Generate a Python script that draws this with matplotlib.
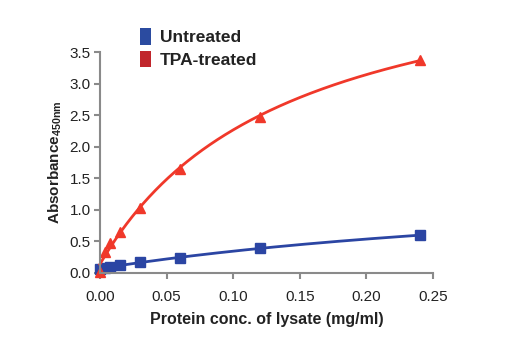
import numpy as np
import matplotlib
matplotlib.use("Agg")
import matplotlib.pyplot as plt
from matplotlib.patches import Patch
from matplotlib import font_manager

names = {f.name for f in font_manager.fontManager.ttflist}
FONT = "Liberation Sans Narrow" if "Liberation Sans Narrow" in names else "Liberation Sans"
plt.rcParams['font.family'] = [FONT, 'DejaVu Sans']

conc = [0.0, 0.00375, 0.0075, 0.015, 0.03, 0.06, 0.12, 0.24]
untreated = [0.06, 0.08, 0.10, 0.13, 0.17, 0.24, 0.39, 0.60]
tpa = [0.02, 0.33, 0.47, 0.65, 1.03, 1.65, 2.48, 3.38]
xticks = [0.00, 0.05, 0.10, 0.15, 0.20, 0.25]
yticks = [0.0, 0.5, 1.0, 1.5, 2.0, 2.5, 3.0, 3.5]

BLUE = "#2b45a3"
RED = "#f0382a"
LEG_BLUE = "#2b4ba0"
LEG_RED = "#c1262c"


def fit_curve(x, y, xs):
    x = np.asarray(x); y = np.asarray(y)
    best = None
    for b in np.linspace(0.005, 2.0, 800):
        A = np.column_stack([x / (b + x), np.ones_like(x)])
        coef, res, *_ = np.linalg.lstsq(A, y, rcond=None)
        err = np.sum((A @ coef - y) ** 2)
        if best is None or err < best[0]:
            best = (err, b, coef)
    _, b, coef = best
    return coef[0] * xs / (b + xs) + coef[1]


fig = plt.figure(figsize=(5.2, 3.5), dpi=100)
ax = fig.add_axes([0.192, 0.22, 0.641, 0.631])

xs = np.linspace(0, max(conc), 300)
ax.plot(xs, fit_curve(conc, untreated, xs), color=BLUE, lw=2, clip_on=False)
ax.plot(conc, untreated, 's', color=BLUE, ms=7, clip_on=False)
ax.plot(xs, fit_curve(conc, tpa, xs), color=RED, lw=2, clip_on=False)
ax.plot(conc, tpa, '^', color=RED, ms=6.5, clip_on=False)

ax.set_xlim(0, 0.25)
ax.set_ylim(0, 3.5)
ax.set_xticks(xticks)
ax.set_yticks(yticks)
ax.set_xticklabels([f"{t:.2f}" for t in xticks])
ax.set_yticklabels([f"{t:.1f}" for t in yticks])
for s in ["top", "right"]:
    ax.spines[s].set_visible(False)
for s in ["left", "bottom"]:
    ax.spines[s].set_color("#8a8a8a")
    ax.spines[s].set_linewidth(1.5)
ax.tick_params(direction="out", length=4, width=1.5, color="#8a8a8a",
               labelsize=11, labelcolor="#222222")
ax.tick_params(axis="x", pad=8)
ax.tick_params(axis="y", pad=2.5)

ax.set_xlabel("Protein conc. of lysate (mg/ml)", fontsize=11.5, fontweight="bold",
              color="#222222", labelpad=6)
ax.set_ylabel(r"Absorbance$_{\mathregular{450nm}}$", fontsize=11, fontweight="bold",
              color="#222222", labelpad=4)

handles = [Patch(facecolor=LEG_BLUE, edgecolor="none"),
           Patch(facecolor=LEG_RED, edgecolor="none")]
leg = fig.legend(handles, ["Untreated", "TPA-treated"], loc="upper left",
                 bbox_to_anchor=(0.240, 0.964), frameon=False,
                 prop={"family": [FONT, "DejaVu Sans"], "weight": "bold", "size": 12.5},
                 handlelength=0.6, handleheight=1.1, handletextpad=0.5,
                 labelspacing=0.3)
for t in leg.get_texts():
    t.set_color("#222222")

fig.savefig("out.png", dpi=100)
